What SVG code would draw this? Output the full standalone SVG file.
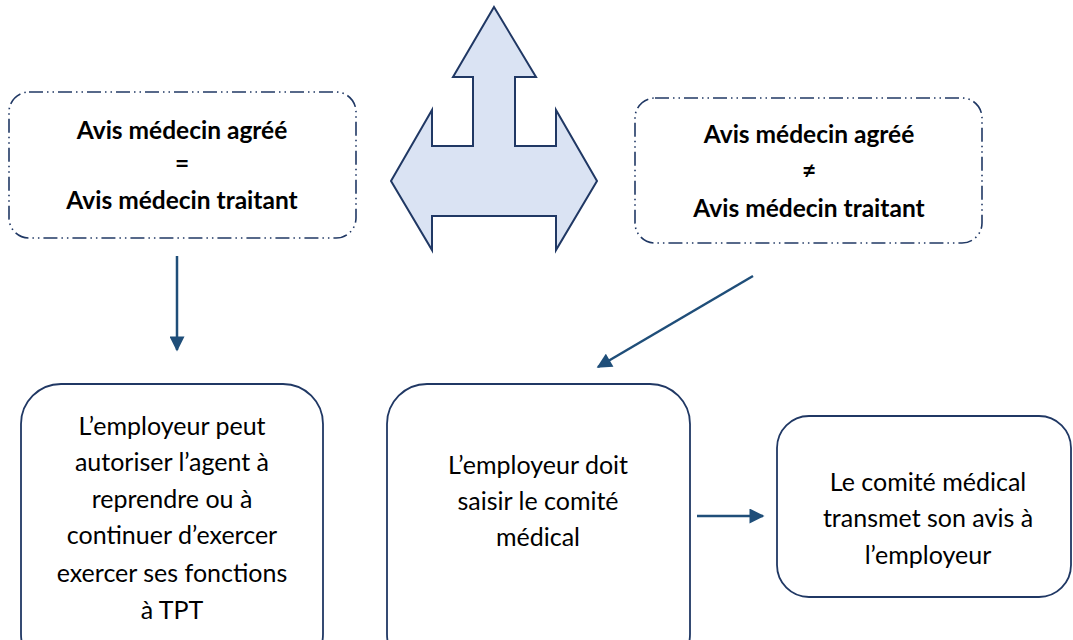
<svg xmlns="http://www.w3.org/2000/svg" width="1073" height="640" viewBox="0 0 1073 640">
<style>
.dd{fill:#fff;stroke:#203864;stroke-width:1.6;stroke-dasharray:14 4 1.5 4 1.5 4}
.box{fill:#fff;stroke:#203864;stroke-width:1.8}
.b{font-family:Lato,"Liberation Sans",sans-serif;font-weight:bold;font-size:24.5px;fill:#000;text-anchor:middle}
.t{font-family:Lato,"Liberation Sans",sans-serif;font-size:25px;fill:#000;text-anchor:middle}
.c{stroke:#1f4e79;stroke-width:2.5;fill:none;marker-end:url(#ah)}
</style>
<defs>
<marker id="ah" viewBox="0 0 10 10" refX="9" refY="5" markerWidth="16" markerHeight="15" markerUnits="userSpaceOnUse" orient="auto">
<path d="M0,0 L10,5 L0,10 Z" fill="#1f4e79"/>
</marker>
</defs>
<rect width="1073" height="640" fill="#fff"/>
<g id="shape-arrow">
<path d="M494,7 L536,77 L515,77 L515,146 L556,146 L556,110 L597,181 L556,250 L556,216 L432,216 L432,250 L391,181 L432,110 L432,146 L473,146 L473,77 L453,77 Z" fill="#dae3f3" stroke="#203864" stroke-width="2" stroke-linejoin="miter"/>
</g>
<g id="node-egal">
<rect class="dd" x="9" y="92" width="347" height="146" rx="20"/>
<text class="b" x="182" y="139">Avis médecin agréé</text>
<text class="b" x="182" y="172">=</text>
<text class="b" x="182" y="209">Avis médecin traitant</text>
</g>
<g id="node-diff">
<rect class="dd" x="635" y="98" width="347" height="145" rx="20"/>
<text class="b" x="809" y="143">Avis médecin agréé</text>
<text class="b" x="809" y="179">≠</text>
<text class="b" x="809" y="217">Avis médecin traitant</text>
</g>
<g id="node-tpt">
<rect class="box" x="21" y="384" width="302" height="290" rx="40"/>
<text class="t" x="172" y="435">L’employeur peut</text>
<text class="t" x="172" y="471">autoriser l’agent à</text>
<text class="t" x="172" y="508">reprendre ou à</text>
<text class="t" x="172" y="544">continuer d’exercer</text>
<text class="t" x="172" y="582">exercer ses fonctions</text>
<text class="t" x="172" y="619">à TPT</text>
</g>
<g id="node-saisir">
<rect class="box" x="387" y="384" width="303" height="290" rx="40"/>
<text class="t" x="538" y="474">L’employeur doit</text>
<text class="t" x="538" y="510">saisir le comité</text>
<text class="t" x="538" y="546">médical</text>
</g>
<g id="node-comite">
<rect class="box" x="777" y="416" width="294" height="181" rx="32"/>
<text class="t" x="928" y="491">Le comité médical</text>
<text class="t" x="928" y="527">transmet son avis à</text>
<text class="t" x="928" y="564">l’employeur</text>
</g>
<g id="connectors">
<line class="c" x1="177" y1="256" x2="177" y2="350"/>
<line class="c" x1="753" y1="276" x2="598" y2="367"/>
<line class="c" x1="697" y1="516" x2="763" y2="516"/>
</g>
</svg>
